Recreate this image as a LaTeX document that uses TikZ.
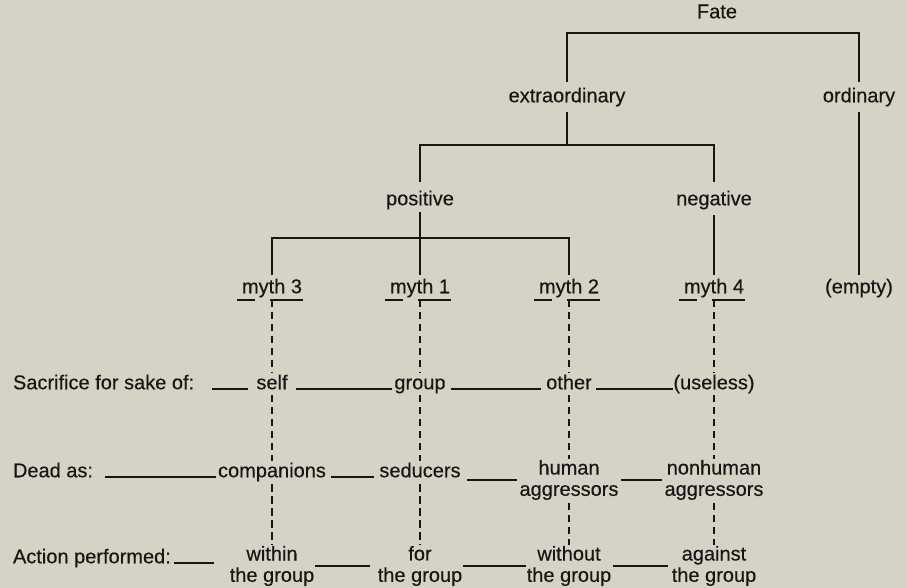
\documentclass[tikz,border=0pt]{standalone}
\usepackage{fontspec}
\setmainfont{Liberation Sans}[FakeBold=0.35]
\usetikzlibrary{calc}
\definecolor{paper}{RGB}{214,210,198}
\definecolor{ink}{RGB}{24,22,20}
\begin{document}
\begin{tikzpicture}[x=0.75pt,y=-0.75pt,
  lbl/.style={font=\fontsize{15}{16}\selectfont, text=ink, inner sep=0pt, outer sep=0pt, text height=11.2pt, text depth=3.3pt},
  two/.style={font=\fontsize{15}{16}\selectfont, text=ink, inner sep=0pt, outer sep=0pt, align=center},
  tree/.style={line width=2pt, draw=ink},
  conn/.style={line width=1.6pt, draw=ink},
  dsh/.style={line width=1.6pt, draw=ink, dash pattern=on 5.5pt off 3.5pt}]
\fill[paper] (0,0) rectangle (907,588);
\useasboundingbox (0,0) rectangle (907,588);

% tree
\node[lbl] (fate) at (717,13) {Fate};
\node[lbl] (ext) at (567,97) {extraordinary};
\node[lbl] (ord) at (859,97) {ordinary};
\node[lbl] (pos) at (420,200) {positive};
\node[lbl] (neg) at (714,200) {negative};
\node[lbl] (m3) at (272,288) {myth 3};
\node[lbl] (m1) at (420,288) {myth 1};
\node[lbl] (m2) at (569,288) {myth 2};
\node[lbl] (m4) at (714,288) {myth 4};
\node[lbl] (empty) at (859,288) {(empty)};

\coordinate (fj) at (717,33);
\coordinate (ej) at (567,145);
\coordinate (pj) at (420,238);

\draw[tree, shorten <=4pt, shorten >=4pt] (ext.north) |- (fj) -| (ord.north);
\draw[tree, shorten <=4pt] (ext.south) -- (ej);
\draw[tree, shorten <=6pt, shorten >=6pt] (pos.north) |- (ej) -| (neg.north);
\draw[tree, shorten <=2pt, shorten >=2.5pt] (pos.south) -- (m1.north);
\draw[tree, shorten <=2.5pt, shorten >=2.5pt] (m3.north) |- (pj) -| (m2.north);
\draw[tree, shorten <=4pt, shorten >=2.5pt] (neg.south) -- (m4.north);
\draw[tree, shorten <=4pt, shorten >=2.5pt] (ord.south) -- (empty.north);

% row labels
\node[lbl, anchor=west] (sac) at (13,384) {Sacrifice for sake of:};
\node[lbl, anchor=west] (dead) at (13,472) {Dead as:};
\node[lbl, anchor=west] (act) at (13,558) {Action performed:};

% row 1
\node[lbl] (self) at (272,384) {self};
\node[lbl] (group) at (420,384) {group};
\node[lbl] (other) at (569,384) {other};
\node[lbl] (useless) at (714,384) {(useless)};

% row 2
\node[lbl] (comp) at (272,472) {companions};
\node[lbl] (sed) at (420,472) {seducers};
\node[two] (ha) at (569,480) {human\\aggressors};
\node[two] (nha) at (714,480) {nonhuman\\aggressors};

% row 3
\node[two] (wg) at (272,566) {within\\the group};
\node[two] (fg) at (420,566) {for\\the group};
\node[two] (wog) at (569,566) {without\\the group};
\node[two] (ag) at (714,566) {against\\the group};

% myth underlines and dashed columns
\foreach \m/\a/\b/\c in {m3/self/comp/wg, m1/group/sed/fg, m2/other/ha/wog, m4/useless/nha/ag}{
  \draw[conn] ($(\m.south)+(-35,2)$) -- ++(18,0);
  \draw[conn] ($(\m.south)+(-2,2)$) -- ++(33,0);
  \draw[dsh] ($(\m.south)+(0,2)$) -- ([yshift=1pt]\a.north);
  \draw[dsh, shorten <=1pt, shorten >=1pt] (\a.south) -- (\b.north);
  \draw[dsh, shorten <=2pt, shorten >=1pt] (\b.south) -- (\c.north);
}

% row 1 connectors
\draw[conn, shorten <=13.5pt, shorten >=6pt] (sac.base east) -- (self.base west);
\draw[conn, shorten <=6pt, shorten >=1.5pt] (self.base east) -- (group.base west);
\draw[conn, shorten <=3.75pt, shorten >=3.75pt] (group.base east) -- (other.base west);
\draw[conn, shorten <=3pt, shorten >=0.5pt] (other.base east) -- (useless.base west);

% row 2 connectors
\draw[conn, shorten <=9pt, shorten >=1.5pt] (dead.base east) -- (comp.base west);
\draw[conn, shorten <=3.75pt, shorten >=3.75pt] (comp.base east) -- (sed.base west);
\draw[conn, shorten <=5pt, shorten >=2pt] (sed.east |- ha.west) -- (ha.west);
\draw[conn, shorten <=2pt, shorten >=2pt] (ha.east) -- (nha.west);

% row 3 connectors
\coordinate (actend) at ($(act.base east)+(43,0)$);
\draw[conn, shorten <=2pt] (act.base east) -- (actend);
\draw[conn, shorten <=0.5pt, shorten >=6pt] (wg.east) -- (fg.west);
\draw[conn, shorten <=0.5pt, shorten >=0.5pt] (fg.east) -- (wog.west);
\draw[conn, shorten <=1.5pt, shorten >=3pt] (wog.east) -- (ag.west);
\end{tikzpicture}
\end{document}
